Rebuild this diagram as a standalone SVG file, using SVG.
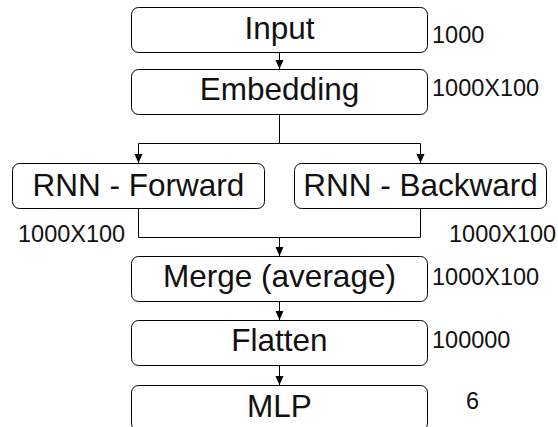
<svg xmlns="http://www.w3.org/2000/svg" width="558" height="427" viewBox="0 0 558 427">
  <style>
    .box { fill: #ffffff; stroke: #000000; stroke-width: 1; }
    .t { font-family: "Liberation Sans", Arial, sans-serif; font-size: 31.5px; fill: #111111; text-anchor: middle; }
    .lbl { font-family: "Liberation Sans", Arial, sans-serif; font-size: 23.5px; fill: #111111; }
    .edge { fill: none; stroke: #000000; stroke-width: 1; }
  </style>
  <defs>
    <marker id="arr" markerWidth="9" markerHeight="9" viewBox="0 0 9 9" refX="9" refY="4.5" orient="auto" markerUnits="userSpaceOnUse">
      <path d="M0,0.5 L9,4.5 L0,8.5 Z" fill="#000000"/>
    </marker>
  </defs>
  <rect width="558" height="427" fill="#ffffff"/>
  <g id="connectors">
    <path class="edge" d="M279.5,52.5 L279.5,69" marker-end="url(#arr)"/>
    <path class="edge" d="M279.5,114.5 L279.5,143.5 L138.5,143.5 L138.5,163" marker-end="url(#arr)"/>
    <path class="edge" d="M279.5,143.5 L420.5,143.5 L420.5,163" marker-end="url(#arr)"/>
    <path class="edge" d="M138.5,208.5 L138.5,237.5 L420.5,237.5 L420.5,208.5"/>
    <path class="edge" d="M279.5,237.5 L279.5,256" marker-end="url(#arr)"/>
    <path class="edge" d="M279.5,301.5 L279.5,320" marker-end="url(#arr)"/>
    <path class="edge" d="M279.5,365.5 L279.5,385" marker-end="url(#arr)"/>
  </g>
  <g id="input">
    <rect class="box" x="131.5" y="7.5" width="296" height="45" rx="7"/>
    <text class="t" x="279.5" y="39">Input</text>
    <text class="lbl" x="432" y="43">1000</text>
  </g>
  <g id="embedding">
    <rect class="box" x="131.5" y="69.5" width="296" height="45" rx="7"/>
    <text class="t" x="279.5" y="100">Embedding</text>
    <text class="lbl" x="432" y="96">1000X100</text>
  </g>
  <g id="rnn-forward">
    <rect class="box" x="12.5" y="163.5" width="252" height="45" rx="7"/>
    <text class="t" x="138.5" y="196">RNN - Forward</text>
    <text class="lbl" x="18" y="242">1000X100</text>
  </g>
  <g id="rnn-backward">
    <rect class="box" x="294.5" y="163.5" width="252" height="45" rx="7"/>
    <text class="t" x="420.5" y="196">RNN - Backward</text>
    <text class="lbl" x="449" y="242">1000X100</text>
  </g>
  <g id="merge">
    <rect class="box" x="131.5" y="256.5" width="296" height="45" rx="7"/>
    <text class="t" x="279.5" y="287">Merge (average)</text>
    <text class="lbl" x="432" y="285">1000X100</text>
  </g>
  <g id="flatten">
    <rect class="box" x="131.5" y="320.5" width="296" height="45" rx="7"/>
    <text class="t" x="279.5" y="351">Flatten</text>
    <text class="lbl" x="432" y="348">100000</text>
  </g>
  <g id="mlp">
    <rect class="box" x="131.5" y="385.5" width="296" height="45" rx="7"/>
    <text class="t" x="279.5" y="417">MLP</text>
    <text class="lbl" x="466" y="409">6</text>
  </g>
</svg>
